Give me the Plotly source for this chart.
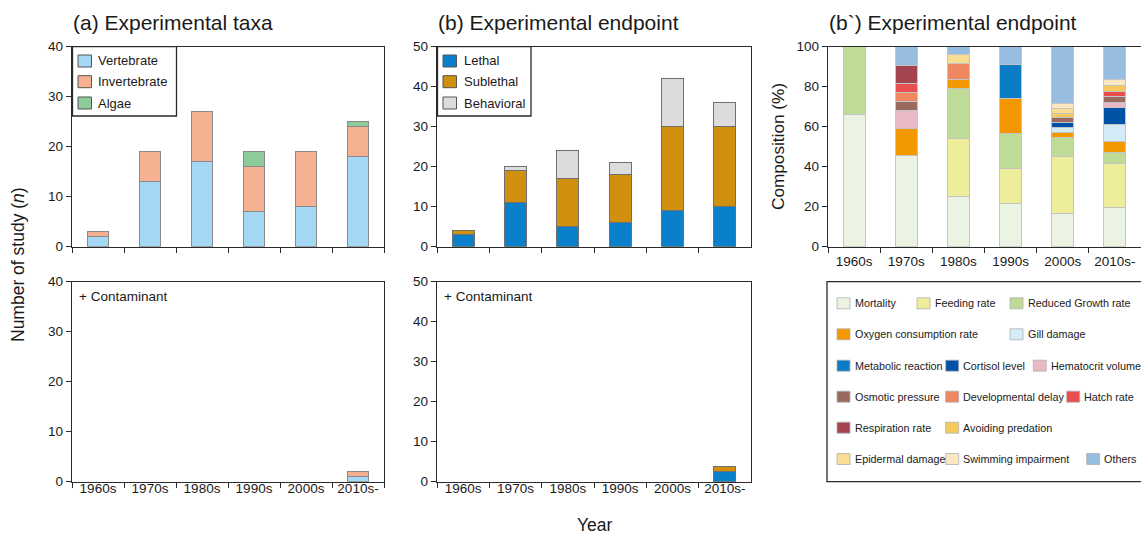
import plotly.graph_objects as go

W, H = 1141, 539

decades = ["1960s", "1970s", "1980s", "1990s", "2000s", "2010s-"]

# (a) Experimental taxa, top
taxa_names = ["Vertebrate", "Invertebrate", "Algae"]
vertebrate = [2, 13, 17, 7, 8, 18]
invertebrate = [1, 6, 10, 9, 11, 6]
algae = [0, 0, 0, 3, 0, 1]
# (a) + Contaminant
vertebrate_c = [0, 0, 0, 0, 0, 1]
invertebrate_c = [0, 0, 0, 0, 0, 1]
algae_c = [0, 0, 0, 0, 0, 0]

# (b) Experimental endpoint, top
endpoint_names = ["Lethal", "Sublethal", "Behavioral"]
lethal = [3, 11, 5, 6, 9, 10]
sublethal = [1, 8, 12, 12, 21, 20]
behavioral = [0, 1, 7, 3, 12, 6]
# (b) + Contaminant
lethal_c = [0, 0, 0, 0, 0, 2.5]
sublethal_c = [0, 0, 0, 0, 0, 1.2]
behavioral_c = [0, 0, 0, 0, 0, 0]

# (b`) composition (%)
comp_names = ["Mortality", "Feeding rate", "Reduced Growth rate", "Oxygen consumption rate",
              "Gill damage", "Metabolic reaction", "Cortisol level", "Hematocrit volume",
              "Osmotic pressure", "Developmental delay", "Hatch rate", "Respiration rate",
              "Avoiding predation", "Epidermal damage", "Swimming impairment", "Others"]
mortality = [66, 45.5, 25.0, 21.7, 16.7, 19.4]
feeding = [0, 0, 29.2, 17.4, 28.6, 22.2]
growth = [34, 0, 25.0, 17.4, 9.5, 5.6]
oxygen = [0, 13.6, 4.2, 17.4, 2.4, 5.6]
gill = [0, 0, 0, 0, 2.4, 8.3]
metabolic = [0, 0, 0, 17.4, 0, 0]
cortisol = [0, 0, 0, 0, 2.4, 8.3]
hematocrit = [0, 9.1, 0, 0, 0, 2.8]
osmotic = [0, 4.5, 0, 0, 2.4, 2.8]
develop = [0, 4.5, 8.3, 0, 0, 0]
hatch = [0, 4.5, 0, 0, 0, 2.8]
respiration = [0, 9.1, 0, 0, 0, 0]
avoiding = [0, 0, 0, 0, 2.4, 2.8]
epidermal = [0, 0, 4.2, 0, 2.4, 0]
swimming = [0, 0, 0, 0, 2.4, 2.8]
others = [0, 9.1, 4.2, 8.7, 28.6, 16.7]
comp_values = [mortality, feeding, growth, oxygen, gill, metabolic, cortisol, hematocrit,
               osmotic, develop, hatch, respiration, avoiding, epidermal, swimming, others]

# ---------------- styles ----------------
taxa_colors = ["#A5D8F5", "#F6B192", "#8DCB9A"]
endpoint_colors = ["#0A7FCB", "#D18F0E", "#DCDCDC"]
comp_colors = ["#EBF3E2", "#EEEE9A", "#BEDC98", "#F39800", "#D5EBF8", "#0B7BC6",
               "#0052A6", "#E9BAC6", "#9A6A60", "#EF8760", "#E84E4E", "#A34550",
               "#F6CB5B", "#F8DD92", "#FBE8C2", "#97BDE0"]

FONT = "Liberation Sans, Arial, sans-serif"
TXT = "#1a1a1a"
AX = "#2a2a2a"


def nz(v):
    return [x if x else None for x in v]


def xd(a, b):
    return [a / W, min(b / W, 1.0)]


def yd(top, bottom):
    return [1 - bottom / H, 1 - top / H]


fig = go.Figure()


def add_stack(names, series, colors, xa, ya, line_color):
    for n, s, c in zip(names, series, colors):
        fig.add_trace(go.Bar(x=decades, y=nz(s), name=n, marker_color=c,
                             marker_line_color=line_color, marker_line_width=1,
                             xaxis=xa, yaxis=ya, showlegend=False, hoverinfo="x+y+name"))


add_stack(taxa_names, [vertebrate, invertebrate, algae], taxa_colors, "x", "y", "#8a8a8a")
add_stack(endpoint_names, [lethal, sublethal, behavioral], endpoint_colors, "x2", "y2", "#707070")
add_stack(comp_names, comp_values, comp_colors, "x3", "y3", "#c4c4c4")
add_stack(taxa_names, [vertebrate_c, invertebrate_c, algae_c], taxa_colors, "x4", "y4", "#8a8a8a")
add_stack(endpoint_names, [lethal_c, sublethal_c, behavioral_c], endpoint_colors, "x5", "y5", "#707070")


def xax(dom, anchor, labels, mirror=True, standoff=0):
    return dict(domain=dom, anchor=anchor, type="category", range=[-0.5, 5.5],
                showline=True, linecolor=AX, linewidth=1.4, mirror=mirror,
                ticks="outside", ticklen=5, tickwidth=1.2, tickcolor=AX,
                tickson="boundaries", showgrid=False, zeroline=False,
                showticklabels=labels, ticklabelstandoff=standoff, automargin=False,
                tickfont=dict(family=FONT, size=13.5, color=TXT))


def yax(dom, anchor, rng, dtick, mirror=True):
    return dict(domain=dom, anchor=anchor, range=rng, dtick=dtick,
                showline=True, linecolor=AX, linewidth=1.4, mirror=mirror,
                ticks="outside", ticklen=5, tickwidth=1.2, tickcolor=AX,
                showgrid=False, zeroline=False, automargin=False,
                tickfont=dict(family=FONT, size=13.5, color=TXT))


top = (46.7, 246.7)
bot = (281.7, 481.7)
xa_a = (72, 384)
xa_b = (437, 751)
xa_c = (828, 1142)

layout = dict(
    width=W, height=H, autosize=False,
    margin=dict(l=0, r=0, t=0, b=0, pad=0, autoexpand=False),
    paper_bgcolor="white", plot_bgcolor="white",
    barmode="stack", bargap=0.58, showlegend=False,
    font=dict(family=FONT, color=TXT),
    xaxis=xax(xd(*xa_a), "y", False),
    yaxis=yax(yd(*top), "x", [0, 40], 10),
    xaxis2=xax(xd(*xa_b), "y2", False),
    yaxis2=yax(yd(*top), "x2", [0, 50], 10),
    xaxis3=xax(xd(*xa_c), "y3", True, standoff=2),
    yaxis3=yax(yd(*top), "x3", [0, 100], 20, mirror=False),
    xaxis4=xax(xd(*xa_a), "y4", True, standoff=-6),
    yaxis4=yax(yd(*bot), "x4", [0, 40], 10),
    xaxis5=xax(xd(*xa_b), "y5", True, standoff=-6),
    yaxis5=yax(yd(*bot), "x5", [0, 50], 10),
)
fig.update_layout(**layout)

ann = []
shapes = []


def text(x, y, s, size, xanchor="left", yanchor="middle", angle=0):
    ann.append(dict(x=x / W, y=1 - y / H, xref="paper", yref="paper", text=s, showarrow=False,
                    xanchor=xanchor, yanchor=yanchor, textangle=angle,
                    font=dict(family=FONT, size=size, color=TXT)))


def rect(x0, y0, x1, y1, fill, line, lw=1):
    shapes.append(dict(type="rect", xref="paper", yref="paper",
                       x0=x0 / W, x1=x1 / W, y0=1 - y1 / H, y1=1 - y0 / H,
                       fillcolor=fill, line=dict(color=line, width=lw)))


# panel titles
text(71, 22, "(a) Experimental taxa", 21)
text(436, 22, "(b) Experimental endpoint", 21)
text(827, 22, "(b`) Experimental endpoint", 21)

# axis titles
text(18, 265, "Number of study (<i>n</i>)", 17.5, xanchor="center", angle=-90)
text(778, 147, "Composition (%)", 17.2, xanchor="center", angle=-90)
text(595, 525, "Year", 17.5, xanchor="center")

# + Contaminant
text(77, 297, "+ Contaminant", 13.5)
text(442, 297, "+ Contaminant", 13.5)

# small legends (a), (b)
small_rows = [61, 81.7, 103]
rect(72.5, 46.7, 176.5, 116, "white", AX, 1.3)
for n, c, yy in zip(taxa_names, taxa_colors, small_rows):
    rect(78, yy - 6, 91.5, yy + 6, c, "#555555", 1)
    text(96, yy, n, 13)
rect(437.5, 46.7, 531, 116, "white", AX, 1.3)
for n, c, yy in zip(endpoint_names, endpoint_colors, small_rows):
    rect(443, yy - 6, 456.5, yy + 6, c, "#555555", 1)
    text(462, yy, n, 13)

# (b`) legend box
rect(827, 281.7, 1150, 481.7, "white", AX, 1.3)
rows = [303.3, 334.3, 365.7, 396.7, 427.7, 459]
legend_pos = {
    "Mortality": (837, rows[0]), "Feeding rate": (917, rows[0]), "Reduced Growth rate": (1010, rows[0]),
    "Oxygen consumption rate": (837, rows[1]), "Gill damage": (1010, rows[1]),
    "Metabolic reaction": (837, rows[2]), "Cortisol level": (945.7, rows[2]), "Hematocrit volume": (1033.3, rows[2]),
    "Osmotic pressure": (837, rows[3]), "Developmental delay": (945.7, rows[3]), "Hatch rate": (1066.7, rows[3]),
    "Respiration rate": (837, rows[4]), "Avoiding predation": (945.7, rows[4]),
    "Epidermal damage": (837, rows[5]), "Swimming impairment": (945.7, rows[5]), "Others": (1086.7, rows[5]),
}
for n, c in zip(comp_names, comp_colors):
    sx, sy = legend_pos[n]
    rect(sx, sy - 5.5, sx + 13, sy + 5.5, c, "#b0b0b0", 0.8)
    text(sx + 15.5, sy, n, 10.8)

fig.update_layout(annotations=ann, shapes=shapes)
fig.write_html("out.html")
